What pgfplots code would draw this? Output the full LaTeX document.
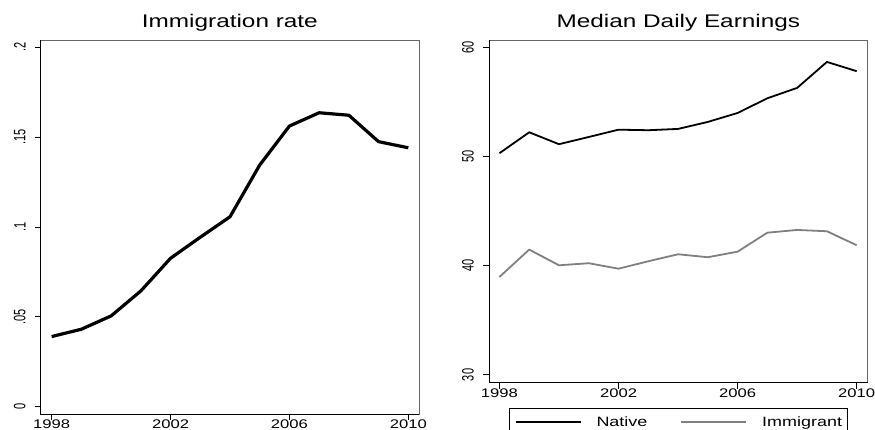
\documentclass[border=0pt]{standalone}
\usepackage{graphicx}
\usepackage{fontspec}
\setmainfont{Liberation Sans}[FakeStretch=1.33]
\newfontfamily\yfont{Liberation Sans}
\usepackage{pgfplots}
\pgfplotsset{compat=1.18}
\newcommand{\yl}[1]{\scalebox{1}[1.5]{#1}}
\pgfplotsset{
  stata/.style={
    scale only axis,
    anchor=south west,
    clip=false,
    axis line style={draw=black!60, line width=0.9pt},
    tick align=outside,
    major tick length=6pt,
    tick style={black, line width=0.9pt},
    xtick pos=left, ytick pos=left,
    xtick={1998,2002,2006,2010},
    xticklabels={1998,2002,2006,2010},
    xticklabel style={font=\fontsize{12.5}{13}\selectfont, inner sep=0pt, anchor=north},
    yticklabel style={font=\yfont\fontsize{11}{11}\selectfont, xshift=-9pt, rotate=90, anchor=south, inner sep=0pt},
    title style={at={(0.5,1)}, anchor=base, yshift=6pt, font=\fontsize{18.3}{20}\selectfont},
  }
}
\begin{document}
\begin{tikzpicture}
\begin{axis}[stata,
  at={(40.7pt,16pt)}, width=378.3pt, height=374pt,
  xmin=1997.63, xmax=2010.36, ymin=-0.0041, ymax=0.2041,
  ytick={0,0.05,0.1,0.15,0.2},
  yticklabels={\yl{0},\yl{.05},\yl{.1},\yl{.15},\yl{.2}},
  title={Immigration rate}]
\addplot[black, line width=3.2pt, line join=round] coordinates {
(1998,0.0390) (1999,0.0431) (2000,0.0505) (2001,0.0644) (2002,0.0826)
(2003,0.0943) (2004,0.1057) (2005,0.1345) (2006,0.1562) (2007,0.1636)
(2008,0.1622) (2009,0.1475) (2010,0.1441)};
\draw[black, line width=0.9pt] (rel axis cs:0,1) -- (rel axis cs:0,0) -- (rel axis cs:1,0);
\end{axis}
\begin{axis}[stata,
  at={(489pt,47.3pt)}, width=378.7pt, height=342.7pt,
  xmin=1997.65, xmax=2010.37, ymin=29.29, ymax=60.7,
  ytick={30,40,50,60},
  yticklabels={\yl{30},\yl{40},\yl{50},\yl{60}},
  title={Median Daily Earnings},
  legend style={draw=black, line width=0.9pt, at={(0.5,0)}, anchor=north, yshift=-25.2pt,
    legend columns=2, font=\fontsize{13.5}{14}\selectfont,
    nodes={inner sep=0pt},
    /tikz/every odd column/.append style={column sep=15pt},
    /tikz/every even column/.append style={column sep=33pt},
    inner xsep=5pt, inner ysep=8pt},
  legend image code/.code={\draw[#1] (0pt,0pt) -- (65pt,0pt);}]
\addplot[black, line width=1.8pt, line join=round] coordinates {
(1998,50.32) (1999,52.24) (2000,51.15) (2001,51.81) (2002,52.48)
(2003,52.43) (2004,52.55) (2005,53.19) (2006,54.01) (2007,55.36)
(2008,56.31) (2009,58.69) (2010,57.84)};
\addlegendentry{Native}
\addplot[gray, line width=1.8pt, line join=round] coordinates {
(1998,38.98) (1999,41.49) (2000,40.05) (2001,40.24) (2002,39.74)
(2003,40.42) (2004,41.06) (2005,40.79) (2006,41.30) (2007,43.04)
(2008,43.29) (2009,43.17) (2010,41.89)};
\addlegendentry{Immigrant}
\draw[black, line width=0.9pt] (rel axis cs:0,1) -- (rel axis cs:0,0) -- (rel axis cs:1,0);
\end{axis}
\pgfresetboundingbox
\useasboundingbox (0pt,0pt) rectangle (875pt,430pt);
\end{tikzpicture}
\end{document}
